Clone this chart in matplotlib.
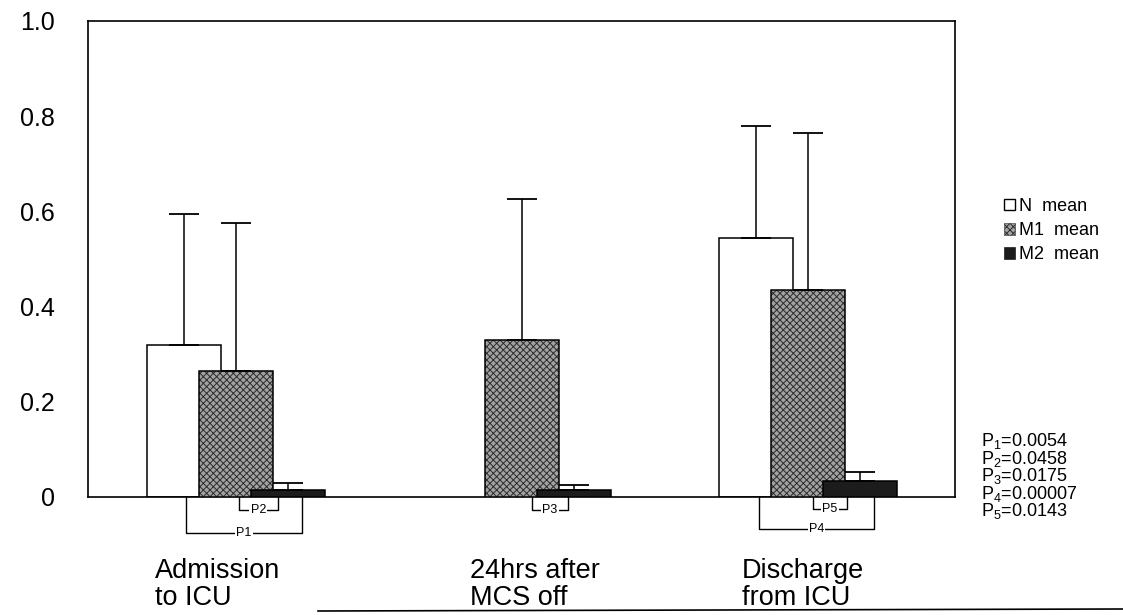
import matplotlib
matplotlib.use("Agg")
import matplotlib.pyplot as plt
from matplotlib.patches import Patch
from matplotlib.lines import Line2D
import numpy as np

plt.rcParams['font.family'] = ['Liberation Sans', 'DejaVu Sans']
plt.rcParams['mathtext.fontset'] = 'custom'
plt.rcParams['mathtext.rm'] = 'Liberation Sans'
plt.rcParams['mathtext.it'] = 'Liberation Sans'
plt.rcParams['hatch.linewidth'] = 0.7

# ---- data -------------------------------------------------------------
categories = ["Admission\nto ICU", "24hrs after\nMCS off", "Discharge\nfrom ICU"]
series = ["N mean", "M1 mean", "M2 mean"]
n_mean = [0.32, 0.0, 0.545]
m1_mean = [0.265, 0.33, 0.435]
m2_mean = [0.015, 0.015, 0.033]
n_sd = [0.275, 0.0, 0.235]
m1_sd = [0.31, 0.295, 0.33]
m2_sd = [0.014, 0.010, 0.019]
yticks = [0, 0.2, 0.4, 0.6, 0.8, 1.0]
ytick_labels = ["0", "0.2", "0.4", "0.6", "0.8", "1.0"]
p_labels = ["P1", "P2", "P3", "P4", "P5"]
p_values = ["0.0054", "0.0458", "0.0175", "0.00007", "0.0143"]
# comparison brackets: (label, category index, left offset, right offset, depth)
brackets = [
    ("P1", 0, -0.175, 0.23, 0.076),
    ("P2", 0, 0.01, 0.145, 0.027),
    ("P3", 1, 0.035, 0.16, 0.027),
    ("P4", 2, -0.171, 0.23, 0.067),
    ("P5", 2, 0.017, 0.136, 0.025),
]
# left edge of each category caption, relative to the category centre
caption_shift = [-0.283, -0.182, -0.231]

# ---- figure -------------------------------------------------------------
fig = plt.figure(figsize=(11.23, 6.15), dpi=100)
ax = fig.add_axes([0.0784, 0.1919, 0.772, 0.774])

x = np.arange(len(categories))
step = 0.182
width = 0.26

m1_face, m1_hatch = "#a2a2a2", "#2c2c2c"
styles = [
    dict(facecolor="white", hatch=None, hcolor=None),
    dict(facecolor=m1_face, hatch="xxxxx", hcolor=m1_hatch),
    dict(facecolor="#1c1c1c", hatch=None, hcolor=None),
]
means = [n_mean, m1_mean, m2_mean]
sds = [n_sd, m1_sd, m2_sd]

for i, (mean, sd, st) in enumerate(zip(means, sds, styles)):
    mean = np.asarray(mean)
    sd = np.asarray(sd)
    xs = x + (i - 1) * step
    show = mean > 0
    z = 2 + i
    if st["hatch"]:
        ax.bar(xs[show], mean[show], width, facecolor=st["facecolor"],
               edgecolor=st["hcolor"], hatch=st["hatch"], linewidth=0, zorder=z)
        ax.bar(xs[show], mean[show], width, fill=False, edgecolor="black",
               linewidth=1.1, zorder=z + 0.05)
    else:
        ax.bar(xs[show], mean[show], width, facecolor=st["facecolor"],
               edgecolor="black", linewidth=1.1, zorder=z)
    ax.errorbar(xs[show], mean[show], yerr=[np.zeros(show.sum()), sd[show]],
                fmt="none", ecolor="black", elinewidth=1.1, capsize=11,
                capthick=1.3, zorder=z + 0.1)

ax.set_xlim(-0.5175, 2.514)
ax.set_ylim(0, 1.0)
ax.set_yticks(yticks)
ax.set_yticklabels(ytick_labels, fontsize=18)
ax.set_xticks([])
ax.tick_params(axis="y", length=0, pad=24)
for sp in ax.spines.values():
    sp.set_linewidth(1.2)

# category captions, left aligned beneath each group
for xi, cap, sh in zip(x, categories, caption_shift):
    ax.text(xi + sh, -0.128, cap, transform=ax.get_xaxis_transform(),
            ha="left", va="top", fontsize=19.5, linespacing=1.05, clip_on=False)

# significance brackets under the baseline
for lab, g, lo, hi, d in brackets:
    x0, x1 = g + lo, g + hi
    ax.plot([x0, x0, x1, x1], [0, -d, -d, 0], color="black", lw=1.0,
            clip_on=False, zorder=6)
    ax.text((x0 + x1) / 2, -d, lab, ha="center", va="center", fontsize=9,
            bbox=dict(facecolor="white", edgecolor="none", pad=0.8),
            clip_on=False, zorder=7)

# legend
handles = [
    Patch(facecolor="white", edgecolor="black", linewidth=1.0),
    Patch(facecolor=m1_face, edgecolor=m1_hatch, hatch="xxxxx", linewidth=0.4),
    Patch(facecolor="#1c1c1c", edgecolor="black", linewidth=0.4),
]
fig.legend(handles, [s.replace(" ", "  ") for s in series], loc="upper left",
           bbox_to_anchor=(1004 / 1123, 1 - 198 / 615), frameon=False,
           fontsize=13, handlelength=0.6, handleheight=0.6, handletextpad=0.25,
           labelspacing=0.4, borderaxespad=0, borderpad=0)

# p-value list
p_text = "\n".join("P$_{%s}$=%s" % (lab[1:], val)
                   for lab, val in zip(p_labels, p_values))
fig.text(981 / 1123, 1 - 431 / 615, p_text, fontsize=13, va="top", ha="left",
         linespacing=0.84)

# rule beneath the category labels
fig.add_artist(Line2D([318 / 1123, 1.0], [1 - 611 / 615, 1 - 609 / 615],
                      color="black", lw=1.2))

fig.savefig("out.png", dpi=100)
